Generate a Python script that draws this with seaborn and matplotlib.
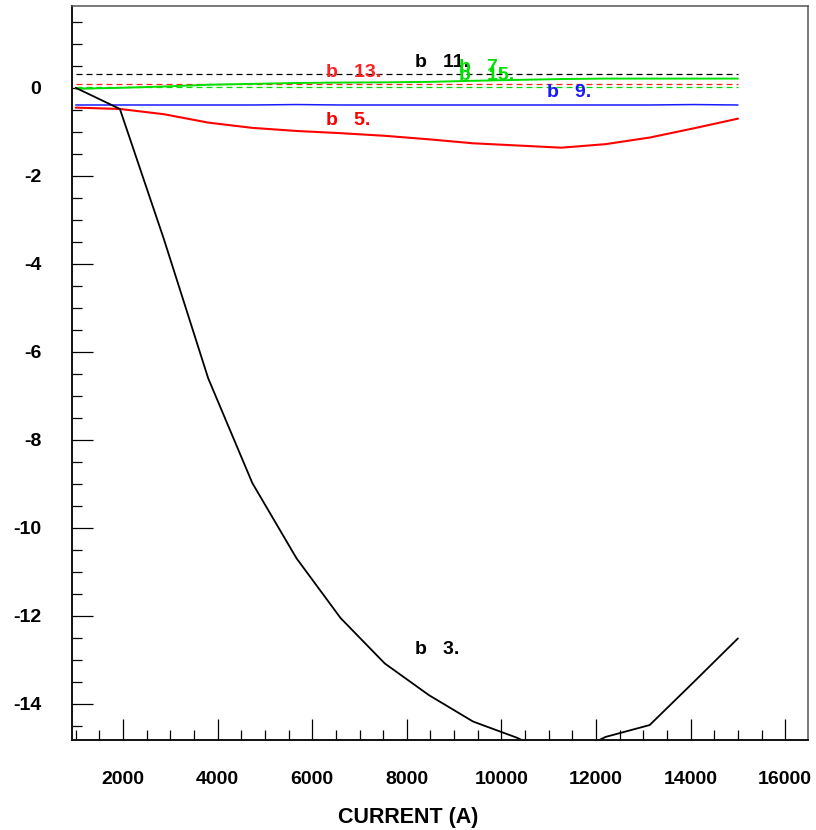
import matplotlib
matplotlib.use("Agg")
import matplotlib.pyplot as plt
from matplotlib.ticker import MultipleLocator
import seaborn as sns
import pandas as pd

# Excitation current (A) at which the harmonics were computed
current = [1000, 1933, 2867, 3800, 4733, 5667, 6600, 7533,
           8467, 9400, 10333, 11267, 12200, 13133, 14067, 15000]

# Normal multipole coefficients b_n versus current
b3 = [0.0, -0.48, -3.45, -6.6, -8.98, -10.69, -12.05, -13.08,
      -13.80, -14.40, -14.77, -15.25, -14.75, -14.48, -13.50, -12.51]
b5 = [-0.45, -0.48, -0.60, -0.79, -0.91, -0.98, -1.03, -1.09,
      -1.17, -1.26, -1.31, -1.36, -1.28, -1.13, -0.92, -0.70]
b7 = [-0.02, 0.0, 0.03, 0.07, 0.09, 0.11, 0.12, 0.125,
      0.135, 0.16, 0.18, 0.20, 0.21, 0.21, 0.21, 0.21]
b9 = [-0.39, -0.39, -0.39, -0.39, -0.39, -0.38, -0.39, -0.39,
      -0.39, -0.39, -0.39, -0.39, -0.39, -0.39, -0.38, -0.39]
b11 = [0.32] * 16
b13 = [0.08] * 16
b15 = [0.01] * 16

series = [
    # name, values, colour, dashed, width, label x, label baseline y
    ("15", b15, "#00e000", True, 0.9, 9110, 0.18),
    ("13", b13, "#ff2020", True, 0.9, 6292, 0.257),
    ("11", b11, "#000000", True, 0.9, 8173, 0.47),
    ("9", b9, "#1a1aff", False, 1.1, 10958, -0.198),
    ("7", b7, "#00e000", False, 1.4, 9110, 0.37),
    ("5", b5, "#ff0000", False, 1.5, 6292, -0.84),
    ("3", b3, "#000000", False, 1.3, 8173, -12.87),
]

sns.set_style("white")
plt.rcParams["font.family"] = ["Liberation Sans", "DejaVu Sans"]
plt.rcParams["font.weight"] = "bold"
plt.rcParams["axes.unicode_minus"] = False
plt.rcParams["text.color"] = "black"
plt.rcParams["xtick.color"] = "black"
plt.rcParams["ytick.color"] = "black"
plt.rcParams["axes.labelcolor"] = "black"

fig = plt.figure(figsize=(8.16, 8.30), dpi=100)
ax = fig.add_axes([0.0879, 0.1084, 0.9027, 0.8844])

for name, vals, col, dashed, lw, lx, ly in series:
    df = pd.DataFrame({"current": current, "b": vals})
    sns.lineplot(data=df, x="current", y="b", color=col, ax=ax,
                 estimator=None, sort=False, linewidth=lw)
    line = ax.lines[-1]
    if dashed:
        line.set_dashes([4.8, 3.2])
    ax.text(lx, ly, f"b   {name}.", color=col, fontsize=14,
            fontweight="bold", ha="left", va="baseline")

ax.set_xlim(915, 16488)
ax.set_ylim(-14.82, 1.86)

ax.xaxis.set_major_locator(MultipleLocator(2000))
ax.xaxis.set_minor_locator(MultipleLocator(500))
ax.yaxis.set_major_locator(MultipleLocator(2))
ax.yaxis.set_minor_locator(MultipleLocator(0.5))

ax.tick_params(axis="both", which="both", bottom=True, left=True,
               top=False, right=False, direction="in", colors="black")
ax.tick_params(axis="both", which="major", length=15, width=0.9,
               labelsize=14, pad=22)
ax.tick_params(axis="both", which="minor", length=7.2, width=0.9)
for lab in ax.get_xticklabels() + ax.get_yticklabels():
    lab.set_fontweight("bold")

for side in ["left", "bottom"]:
    ax.spines[side].set_color("#111111")
    ax.spines[side].set_linewidth(1.4)
for side in ["top", "right"]:
    ax.spines[side].set_color("#555555")
    ax.spines[side].set_linewidth(1.1)

ax.set_ylabel("")
ax.set_xlabel("CURRENT (A)", fontsize=15.5, fontweight="bold")
ax.xaxis.label.set_va("center")
ax.xaxis.set_label_coords(0.4566, -0.105)

fig.savefig("out.png", dpi=100, facecolor="white")
